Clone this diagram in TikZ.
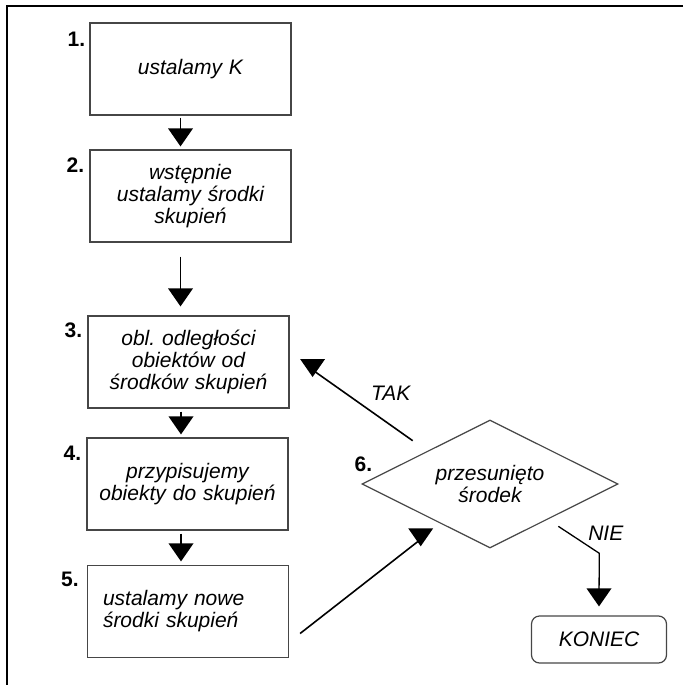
\documentclass[tikz,border=0pt]{standalone}
\usepackage{fontspec}
\setmainfont{Liberation Sans}
\usetikzlibrary{positioning,shapes.geometric}
\definecolor{cedge}{RGB}{70,70,70}
\frenchspacing

\begin{document}
\begin{tikzpicture}[x=1pt, y=-1pt,
    box/.style={draw=cedge, line width=1.2pt, minimum width=201pt, minimum height=92pt,
                inner sep=0pt, text width=190pt, align=center,
                font=\itshape\fontsize{21}{22}\selectfont},
    dia/.style={diamond, draw=cedge, line width=1.2pt, minimum width=256pt, minimum height=128pt,
                inner sep=0pt, aspect=2, align=center, font=\itshape\fontsize{21}{22}\selectfont},
    num/.style={inner sep=0pt, font=\bfseries\fontsize{21}{22}\selectfont},
    lbl/.style={inner sep=0pt, font=\itshape\fontsize{21}{22}\selectfont},
    conn/.style={line width=1.6pt},
    pics/downtip/.style={code={\fill (0,-11) -- (12.5,-11) -- (0,7) -- (-12.5,-11) -- cycle;}},
  ]
  \useasboundingbox (0,0) rectangle (683,685);
  % frame
  \draw[line width=2.2pt] (683,6) -- (7,6) -- (7,685);

  % steps
  \node[box] (k1) at (190.5,69) {ustalamy K};
  \node[box] (k2) at (190.5,196) {wstępnie\\ustalamy środki\\skupień};
  \node[box] (k3) at (188.5,362) {obl. odległości\\obiektów od\\środków skupień};
  \node[box] (k4) at (187.5,484) {przypisujemy\\obiekty do skupień};
  \node[box, text width=170pt, align=left] (k5) at (188,611.5) {\raisebox{-4pt}{ustalamy nowe}\\\raisebox{-4pt}{środki skupień}};
  \node[dia] (d6) at (490,484) {przesunięto\\środek};
  \node[box, rounded corners=8pt, minimum width=135pt, minimum height=47pt, text width=125pt] (kon) at (599,639.5) {KONIEC};

  % numbers
  \node[num, below left=9pt and 4pt of k1.north west] (n1) {1.};
  \node[num, below left=8pt and 5pt of k2.north west] (n2) {2.};
  \node[num, below left=7pt and 5pt of k3.north west] (n3) {3.};
  \node[num, below left=8pt and 5pt of k4.north west] (n4) {4.};
  \node[num, below left=7pt and 8pt of k5.north west] (n5) {5.};
  \node[num, anchor=south east] (n6) at ([xshift=11pt,yshift=12pt]d6.west) {6.};

  % arrows
  \draw[conn] ([xshift=-10pt,yshift=-2pt]k1.south) -- ([xshift=-10pt,yshift=10pt]k2.north) pic {downtip};
  \draw[conn] ([xshift=-10pt,yshift=-14pt]k2.south) -- ([xshift=-8pt,yshift=16pt]k3.north) pic {downtip};
  \draw[conn] ([xshift=-7.5pt,yshift=-3pt]k3.south) -- ([xshift=-6.5pt,yshift=10pt]k4.north) pic {downtip};
  \draw[conn] ([xshift=-6.5pt,yshift=-3pt]k4.south) -- ([xshift=-7pt,yshift=10.5pt]k5.north) pic {downtip};
  \draw[conn] ([xshift=11pt,yshift=-22pt]k5.east) -- ([xshift=-5pt,yshift=-23pt]d6.south west) pic {downtip};
  \draw[conn] ([xshift=-13pt,yshift=11pt]d6.north west)
    -- node[lbl, xshift=28pt, yshift=12pt] (tak) {TAK} ([xshift=23pt,yshift=-8pt]k3.east) pic {downtip};
  \draw[conn, line width=1.3pt] ([xshift=4pt,yshift=-10pt]d6.south east)
    -- node[lbl, xshift=27pt, yshift=7pt] (nie) {NIE} ++(41,27)
    -- ([yshift=16pt]kon.north) pic {downtip};
\end{tikzpicture}
\end{document}
